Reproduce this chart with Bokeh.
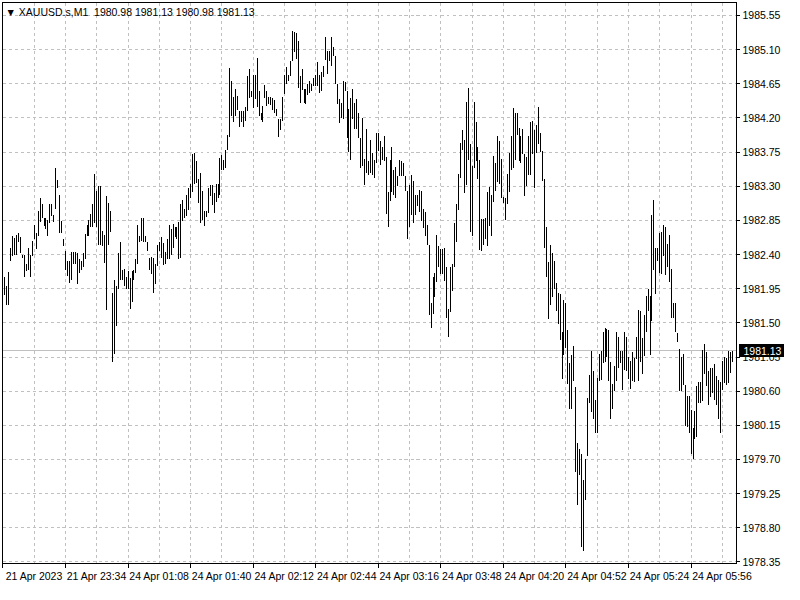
from bokeh.plotting import figure
from bokeh.models import (Range1d, FixedTicker, Span, Label, ColumnDataSource,
                          PrintfTickFormatter, InlineStyleSheet, LinearAxis)
from bokeh.embed import file_html
from bokeh.resources import INLINE

# ---- data (XAUUSD.s, M1 bars: high / low) ----
highs = [
    1982.54, 1982.10, 1981.98, 1982.17, 1982.49, 1982.65, 1982.62, 1982.66, 1982.68, 1982.63,
    1982.40, 1982.39, 1982.28, 1982.48, 1982.39, 1982.58, 1982.79, 1982.69, 1982.97, 1983.15,
    1983.07, 1982.88, 1982.88, 1982.85, 1983.06, 1983.06, 1982.92, 1983.54, 1983.38, 1983.18,
    1982.84, 1982.60, 1982.44, 1982.31, 1982.31, 1982.43, 1982.43, 1982.43, 1982.42, 1982.34,
    1982.32, 1982.42, 1982.67, 1982.79, 1982.85, 1982.94, 1983.06, 1983.46, 1983.24, 1983.30,
    1983.30, 1982.71, 1982.66, 1983.17, 1983.08, 1982.98, 1981.89, 1982.06, 1981.98, 1982.42,
    1982.56, 1982.19, 1982.21, 1982.10, 1982.18, 1982.09, 1982.18, 1982.19, 1982.34, 1982.79,
    1982.65, 1982.88, 1982.88, 1982.64, 1982.57, 1982.36, 1982.37, 1982.36, 1982.28, 1982.52,
    1982.56, 1982.63, 1982.55, 1982.43, 1982.61, 1982.79, 1982.74, 1982.80, 1982.76, 1982.76,
    1982.83, 1983.07, 1983.12, 1983.00,
    1983.18, 1983.28, 1983.33, 1983.72, 1983.74, 1983.63, 1983.39, 1983.48, 1983.24, 1982.97,
    1982.97, 1983.28, 1983.31, 1983.32, 1983.21, 1983.33, 1983.33, 1983.67, 1983.71, 1983.65,
    1983.78, 1983.98, 1984.86, 1984.68, 1984.47, 1984.58, 1984.49, 1984.29, 1984.29, 1984.29,
    1984.35, 1984.75, 1984.85, 1984.55, 1984.77, 1984.76, 1984.99, 1984.56, 1984.27, 1984.36,
    1984.63, 1984.56, 1984.48, 1984.48, 1984.46, 1984.44, 1984.32, 1984.18, 1984.19, 1984.48,
    1984.77, 1984.87, 1984.77, 1984.95, 1985.35, 1985.33, 1985.32, 1985.21, 1984.75, 1984.84,
    1984.58, 1984.58, 1984.65, 1984.68, 1984.65, 1984.73, 1984.77, 1984.94, 1984.76, 1984.80,
    1984.88, 1985.26, 1985.08, 1985.08, 1985.26, 1985.14, 1985.01, 1984.65, 1984.45, 1984.40,
    1984.68, 1984.67, 1984.56, 1984.32, 1984.46, 1984.58, 1984.40, 1984.45, 1984.26, 1983.93,
    1984.20, 1983.66, 1984.05, 1983.63, 1983.91,
    1983.74, 1983.64, 1984.00, 1984.00, 1983.90, 1983.82, 1983.96, 1983.68, 1983.22, 1983.64,
    1983.81, 1983.51, 1983.55, 1983.43, 1983.64, 1983.63, 1983.61, 1983.44, 1983.24, 1983.32,
    1983.45, 1983.37, 1983.19, 1983.18, 1983.25, 1983.24, 1983.00, 1982.96, 1982.79, 1982.52,
    1981.76, 1982.11, 1982.16, 1982.66, 1982.51, 1982.47, 1982.47, 1982.48, 1982.24, 1981.68,
    1982.23, 1982.28, 1982.81, 1983.06, 1983.46, 1983.87, 1984.04, 1983.91, 1984.41, 1984.60,
    1983.86, 1983.56, 1984.41, 1984.15, 1983.82, 1983.64, 1982.87, 1982.87, 1982.88, 1983.23,
    1983.29, 1983.18, 1983.70, 1983.60, 1983.96, 1983.90, 1983.66, 1983.16, 1983.15, 1983.46,
    1983.74, 1983.96, 1984.33, 1984.26, 1984.27, 1984.07, 1983.96, 1984.05, 1983.73, 1983.69,
    1983.96, 1984.14, 1984.16, 1984.04, 1984.10, 1984.35, 1984.00, 1983.76, 1983.40, 1982.76,
    1982.30, 1982.52, 1982.42, 1982.31, 1982.03,
    1981.89, 1981.88, 1981.38, 1981.80, 1981.76, 1981.40, 1980.97, 1981.08, 1981.20, 1980.66,
    1979.92, 1979.84, 1979.77, 1979.43, 1979.71, 1980.51, 1980.81, 1981.13, 1980.86, 1980.48,
    1980.78, 1981.09, 1981.13, 1981.38, 1981.43, 1981.42, 1981.41, 1980.99, 1980.70, 1980.93,
    1981.38, 1981.31, 1981.13, 1981.13, 1981.38, 1981.32, 1981.05, 1981.00, 1981.11, 1981.04,
    1981.32, 1981.67, 1981.66, 1981.30, 1981.60, 1981.85, 1981.94, 1981.86, 1982.92, 1983.12,
    1982.48, 1982.49, 1982.68, 1982.70, 1982.79, 1982.76, 1982.54, 1982.66, 1982.21, 1981.76,
    1981.76, 1981.37, 1981.16, 1981.05, 1981.09, 1980.68, 1980.54, 1980.54, 1980.35, 1980.11,
    1980.34, 1980.67, 1980.72, 1980.72, 1981.14, 1981.22, 1981.11, 1980.87, 1980.90, 1980.91,
    1980.96, 1980.80, 1980.75, 1980.72, 1981.00, 1981.05, 1981.04, 1981.13, 1981.12, 1981.13,
]

lows = [
    1982.07, 1981.87, 1981.74, 1981.73, 1982.31, 1982.38, 1982.40, 1982.40, 1982.57, 1982.42,
    1982.35, 1982.11, 1982.18, 1982.19, 1982.11, 1982.38, 1982.60, 1982.47, 1982.65, 1982.83,
    1982.88, 1982.78, 1982.74, 1982.65, 1982.81, 1982.91, 1982.83, 1983.00, 1983.27, 1982.69,
    1982.68, 1982.51, 1982.20, 1982.12, 1982.03, 1982.06, 1982.28, 1982.28, 1982.01, 1982.16,
    1982.20, 1982.24, 1982.34, 1982.64, 1982.65, 1982.76, 1982.76, 1982.81, 1982.76, 1982.52,
    1982.52, 1982.51, 1982.29, 1981.67, 1982.52, 1982.70, 1980.99, 1981.09, 1981.46, 1981.95,
    1982.06, 1982.06, 1981.98, 1981.94, 1981.94, 1981.68, 1981.77, 1982.06, 1982.16, 1982.28,
    1982.57, 1982.58, 1982.57, 1982.57, 1982.45, 1982.19, 1982.15, 1981.89, 1982.01, 1982.25,
    1982.45, 1982.36, 1982.26, 1982.27, 1982.34, 1982.34, 1982.39, 1982.48, 1982.63, 1982.60,
    1982.34, 1982.35, 1982.84, 1982.88,
    1982.91, 1982.99, 1983.14, 1983.22, 1983.33, 1983.34, 1983.08, 1982.82, 1982.85, 1982.78,
    1982.89, 1982.95, 1983.17, 1983.05, 1982.95, 1983.09, 1983.15, 1983.19, 1983.52, 1983.52,
    1983.54, 1983.78, 1983.95, 1984.23, 1984.14, 1984.22, 1984.30, 1984.08, 1984.15, 1984.08,
    1984.16, 1984.29, 1984.46, 1984.47, 1984.33, 1984.45, 1984.35, 1984.22, 1984.17, 1984.15,
    1984.46, 1984.36, 1984.38, 1984.37, 1984.31, 1984.27, 1984.22, 1983.95, 1984.04, 1984.16,
    1984.51, 1984.65, 1984.68, 1984.75, 1984.95, 1985.07, 1984.98, 1984.59, 1984.39, 1984.57,
    1984.40, 1984.38, 1984.50, 1984.53, 1984.56, 1984.62, 1984.62, 1984.62, 1984.53, 1984.55,
    1984.74, 1984.96, 1984.78, 1984.95, 1984.89, 1985.01, 1984.65, 1984.38, 1984.13, 1984.20,
    1984.18, 1984.56, 1983.93, 1983.75, 1983.65, 1984.18, 1984.05, 1984.06, 1983.93, 1983.54,
    1983.56, 1983.32, 1983.48, 1983.45, 1983.47,
    1983.45, 1983.41, 1983.60, 1983.77, 1983.58, 1983.64, 1983.63, 1982.93, 1982.76, 1983.11,
    1983.23, 1983.18, 1983.14, 1983.30, 1983.43, 1983.43, 1983.43, 1983.24, 1982.61, 1982.76,
    1982.92, 1982.81, 1982.92, 1983.04, 1982.96, 1982.84, 1982.75, 1982.64, 1982.52, 1981.61,
    1981.43, 1981.62, 1981.84, 1982.04, 1982.24, 1982.14, 1982.14, 1982.05, 1981.57, 1981.32,
    1981.64, 1981.92, 1982.24, 1982.56, 1982.99, 1983.41, 1983.78, 1983.21, 1983.31, 1983.64,
    1982.70, 1982.65, 1983.54, 1983.63, 1983.39, 1982.46, 1982.45, 1982.53, 1982.60, 1982.51,
    1982.77, 1982.65, 1983.09, 1983.24, 1983.36, 1983.33, 1983.14, 1983.08, 1982.85, 1983.06,
    1983.23, 1983.51, 1983.54, 1983.65, 1983.97, 1983.63, 1983.60, 1983.72, 1983.17, 1983.30,
    1983.45, 1983.45, 1983.72, 1983.27, 1983.74, 1983.86, 1983.75, 1983.37, 1982.49, 1982.11,
    1981.55, 1981.74, 1981.84, 1981.94, 1981.66,
    1981.48, 1981.28, 1980.76, 1981.08, 1981.17, 1980.70, 1980.36, 1980.36, 1980.73, 1979.54,
    1979.10, 1979.49, 1978.55, 1978.50, 1979.16, 1979.74, 1980.45, 1980.32, 1980.24, 1980.05,
    1980.05, 1980.73, 1980.75, 1980.97, 1980.99, 1981.05, 1980.73, 1980.24, 1980.36, 1980.60,
    1980.73, 1980.91, 1980.97, 1980.61, 1980.88, 1980.86, 1980.76, 1980.63, 1980.73, 1980.72,
    1981.03, 1980.74, 1980.99, 1980.83, 1981.06, 1981.38, 1981.65, 1981.08, 1981.52, 1982.19,
    1981.88, 1982.32, 1982.16, 1982.15, 1982.38, 1982.13, 1982.23, 1982.04, 1981.56, 1981.57,
    1981.38, 1981.25, 1980.60, 1980.60, 1980.68, 1980.14, 1980.13, 1980.05, 1979.77, 1979.70,
    1979.97, 1980.00, 1980.44, 1980.45, 1980.47, 1980.82, 1980.67, 1980.42, 1980.52, 1980.58,
    1980.48, 1980.42, 1980.24, 1980.05, 1980.62, 1980.71, 1980.68, 1980.71, 1980.84, 1980.98,
]

bar_index = list(range(len(highs)))

time_tick_pos = [0, 32, 64, 96, 128, 160, 192, 224, 256, 288, 320, 352]
time_tick_labels = ["21 Apr 2023", "21 Apr 23:34", "24 Apr 01:08", "24 Apr 01:40",
                    "24 Apr 02:12", "24 Apr 02:44", "24 Apr 03:16", "24 Apr 03:48",
                    "24 Apr 04:20", "24 Apr 04:52", "24 Apr 05:24", "24 Apr 05:56"]
time_grid_pos = [16, 32, 48, 64, 80, 96, 112, 128, 144, 160, 176, 192, 208, 224,
                 240, 256, 272, 288, 304, 320, 336, 352, 368]

price_ticks = [1978.35, 1978.80, 1979.25, 1979.70, 1980.15, 1980.60, 1981.05, 1981.50,
               1981.95, 1982.40, 1982.85, 1983.30, 1983.75, 1984.20, 1984.65, 1985.10, 1985.55]

last_price = 1981.13
title_text = "\u25BC XAUUSD.s,M1\u00a0\u00a01980.98 1981.13 1980.98 1981.13"

FONT = "Liberation Sans"
FS = "10.5px"
X_START, X_END = -0.25, 375.25
Y_START, Y_END = 1978.33, 1985.72
LABEL_SHIFT = 16   # time labels start at their tick (left aligned)
SCALE_W = 45       # width of the price scale strip (px)

source = ColumnDataSource(data=dict(i=bar_index, high=highs, low=lows))

p = figure(width=784, height=584, output_backend="svg", toolbar_location=None,
           x_range=Range1d(X_START, X_END), y_range=Range1d(Y_START, Y_END),
           y_axis_location="right", x_axis_location="below",
           min_border=0, min_border_left=2, min_border_top=2,
           min_border_right=0, min_border_bottom=0,
           background_fill_color="white", border_fill_color="white")
p.stylesheets = [InlineStyleSheet(css=":host { shape-rendering: crispEdges; }")]

p.outline_line_color = "black"
p.outline_line_width = 1
p.outline_line_alpha = 1.0

# grids
p.xgrid.ticker = FixedTicker(ticks=time_grid_pos)
p.ygrid.ticker = FixedTicker(ticks=price_ticks)
for g in (p.xgrid, p.ygrid):
    g.grid_line_color = "#c0c0c0"
    g.grid_line_dash = "3 3"
    g.grid_line_width = 1

# time axis: small marks at each label's tick, label text starting right of it
label_centres = [t + LABEL_SHIFT for t in time_tick_pos]
xa = p.xaxis[0]
xa.ticker = FixedTicker(ticks=label_centres, minor_ticks=time_tick_pos)
xa.major_label_overrides = {c: lab for c, lab in zip(label_centres, time_tick_labels)}
xa.major_label_text_font = FONT
xa.major_label_text_font_size = FS
xa.major_label_text_color = "black"
xa.major_label_standoff = 2
xa.major_tick_in = 0
xa.major_tick_out = 4
xa.major_tick_line_color = None
xa.minor_tick_in = 0
xa.minor_tick_out = 4
xa.minor_tick_line_color = "black"
xa.axis_line_color = "black"

# price axis
ya = p.yaxis[0]
ya.ticker = FixedTicker(ticks=price_ticks)
ya.formatter = PrintfTickFormatter(format="%.2f")
ya.major_label_text_font = FONT
ya.major_label_text_font_size = FS
ya.major_label_text_color = "black"
ya.major_label_standoff = 3
ya.major_tick_in = 0
ya.major_tick_out = 3
ya.major_tick_line_color = "black"
ya.minor_tick_line_color = None
ya.axis_line_color = "black"

# current price tag: an extra price-scale axis with a single tick at the last price,
# its tick drawn as a thick black bar back over the scale, white label on it
tag_axis = LinearAxis(ticker=FixedTicker(ticks=[last_price]),
                      formatter=PrintfTickFormatter(format="%.2f"),
                      axis_line_color=None, minor_tick_line_color=None,
                      major_tick_in=SCALE_W, major_tick_out=0,
                      major_tick_line_color="black", major_tick_line_width=13,
                      major_label_standoff=-(SCALE_W - 5),
                      major_label_text_font=FONT, major_label_text_font_size=FS,
                      major_label_text_color="white")
p.add_layout(tag_axis, "right")

# current price line
p.add_layout(Span(location=last_price, dimension="width", line_color="#c0c0c0",
                  line_width=1, level="underlay"))

# bars (high-low)
p.segment(x0="i", y0="low", x1="i", y1="high", source=source,
          line_color="black", line_width=1)

# title
p.add_layout(Label(x=X_START, y=Y_END, text=title_text, x_offset=3, y_offset=-3,
                   text_font=FONT, text_font_size=FS, text_color="black",
                   text_align="left", text_baseline="top"))

open("out.html", "w").write(file_html(p, INLINE))
